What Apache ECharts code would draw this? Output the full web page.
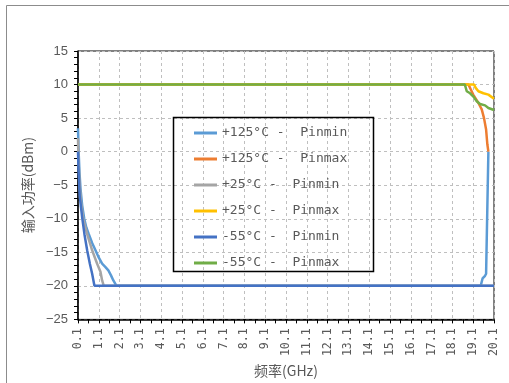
<!DOCTYPE html>
<html>
<head>
<meta charset="utf-8">
<script src="https://cdn.jsdelivr.net/npm/echarts@6/dist/echarts.min.js"></script>
<style>
  html, body { margin: 0; padding: 0; background: #fff; }
  #chart { width: 509px; height: 383px; }
</style>
</head>
<body>
<div id="chart"></div>
<script>
// Frequency tick labels (GHz) shown along the bottom axis
const freqTickLabels = ['0.1', '1.1', '2.1', '3.1', '4.1', '5.1', '6.1', '7.1', '8.1', '9.1', '10.1',
  '11.1', '12.1', '13.1', '14.1', '15.1', '16.1', '17.1', '18.1', '19.1', '20.1'];

// Series names
const seriesNames = ['+125°C -  Pinmin', '+125°C -  Pinmax', '+25°C -  Pinmin',
  '+25°C -  Pinmax', '-55°C -  Pinmin', '-55°C -  Pinmax'];
const seriesColors = ['#5B9BD5', '#ED7D31', '#A5A5A5', '#FFC000', '#4472C4', '#70AD47'];

// [frequency GHz, input power dBm]
const pinmin125 = [[0.1, 3.5], [0.13, 0], [0.17, -3], [0.22, -5.5], [0.3, -8], [0.4, -10], [0.5, -11.3],
  [0.62, -12.3], [0.78, -13.6], [0.94, -14.7], [1.1, -15.8], [1.26, -16.7], [1.42, -17.2], [1.56, -17.7],
  [1.68, -18.4], [1.8, -19.2], [1.95, -20], [19.46, -20], [19.55, -18.9], [19.67, -18.5], [19.72, -18.2],
  [19.83, 0]];
const pinmax125 = [[0.1, 10], [18.87, 10], [18.95, 9.5], [19.1, 8.5], [19.35, 7.25], [19.51, 6.3],
  [19.62, 5.0], [19.72, 3.3], [19.78, 1.1], [19.83, 0]];
const pinmin25 = [[0.1, 2], [0.12, -1], [0.17, -4.5], [0.24, -7.5], [0.35, -10], [0.54, -12.3],
  [0.78, -14.7], [1.02, -16.7], [1.18, -17.9], [1.26, -19.2], [1.34, -20], [20.1, -20]];
const pinmax25 = [[0.1, 10], [19.14, 10], [19.22, 9.5], [19.35, 9.0], [19.59, 8.7], [19.83, 8.5],
  [20.1, 7.9]];
const pinminM55 = [[0.1, 0], [0.13, -3], [0.18, -6.5], [0.3, -9.8], [0.41, -12.3], [0.54, -14.7],
  [0.67, -16.7], [0.78, -18.2], [0.89, -20], [20.1, -20]];
const pinmaxM55 = [[0.1, 10], [18.7, 10], [18.79, 9.0], [18.95, 8.7], [19.11, 8.2], [19.27, 7.5],
  [19.43, 7.1], [19.67, 6.9], [19.83, 6.5], [20.1, 6.2]];

const seriesData = [pinmin125, pinmax125, pinmin25, pinmax25, pinminM55, pinmaxM55];

// Half-step tick positions: labelled ticks every 1 GHz, unlabelled ticks in between
const tickCategories = [];
freqTickLabels.forEach(function (lab, i) {
  tickCategories.push(lab);
  if (i < freqTickLabels.length - 1) tickCategories.push('');
});

const labelColor = '#595959';
const gridColor = '#BFBFBF';

const chart = echarts.init(document.getElementById('chart'), null, { renderer: 'canvas' });

chart.setOption({
  animation: false,
  backgroundColor: '#fff',
  grid: {
    left: 78, right: 15, top: 51, bottom: 62,
    show: true, borderColor: '#000', borderWidth: 1, backgroundColor: 'transparent'
  },
  graphic: [
    {
      type: 'rect', silent: true, z: 0,
      shape: { x: 6.5, y: 5.5, width: 600, height: 500 },
      style: { fill: 'none', stroke: '#8C8C8C', lineWidth: 1 }
    },
    {
      type: 'rect', silent: true, z: 20,
      shape: { x: 173.5, y: 117.5, width: 200, height: 154 },
      style: { fill: 'none', stroke: '#000', lineWidth: 1.5 }
    }
  ],
  legend: {
    orient: 'vertical',
    left: 194, top: 125,
    icon: 'rect',
    itemWidth: 23, itemHeight: 3,
    itemGap: 10,
    padding: 0,
    textStyle: {
      fontFamily: 'DejaVu Sans Mono', fontSize: 13, color: labelColor, lineHeight: 16
    },
    data: seriesNames
  },
  xAxis: [
    {
      type: 'value', min: 0.1, max: 20.1, show: false
    },
    {
      type: 'category', data: tickCategories, boundaryGap: false, position: 'bottom',
      name: '频率(GHz)', nameLocation: 'middle', nameGap: 41,
      nameTextStyle: { fontFamily: 'Noto Sans CJK SC', fontSize: 14, color: labelColor },
      axisLine: { show: true, lineStyle: { color: '#000', width: 1.5 } },
      axisTick: { show: true, interval: 0, length: 4, lineStyle: { color: '#000' } },
      axisLabel: {
        show: true, interval: 0, rotate: 90, margin: 9,
        fontFamily: 'DejaVu Sans Mono', fontSize: 11.5, color: labelColor
      },
      splitLine: {
        show: true,
        interval: function (i) { return i % 2 === 0; },
        lineStyle: { color: gridColor, type: [3, 3], width: 1 }
      }
    }
  ],
  yAxis: {
    type: 'value', min: -25, max: 15, interval: 5,
    name: '输入功率(dBm)', nameLocation: 'middle', nameGap: 41, nameRotate: 90,
    nameTextStyle: { fontFamily: 'Noto Sans CJK SC', fontSize: 14, color: labelColor },
    axisLine: { show: true, lineStyle: { color: '#000', width: 1.5 } },
    axisTick: { show: true, length: 4, lineStyle: { color: '#000' } },
    minorTick: { show: true, splitNumber: 5, length: 4, lineStyle: { color: '#000' } },
    axisLabel: {
      margin: 10, fontFamily: 'Liberation Sans', fontSize: 13, color: labelColor,
      formatter: function (v) { return String(v).replace('-', '\u2212'); }
    },
    splitLine: { show: true, lineStyle: { color: gridColor, type: [3, 3], width: 1 } }
  },
  series: seriesNames.map(function (name, i) {
    return {
      name: name, type: 'line', xAxisIndex: 0,
      data: seriesData[i], showSymbol: false, symbol: 'none',
      lineStyle: { color: seriesColors[i], width: 2.5 },
      itemStyle: { color: seriesColors[i] },
      z: 3 + i
    };
  })
});
</script>
</body>
</html>
